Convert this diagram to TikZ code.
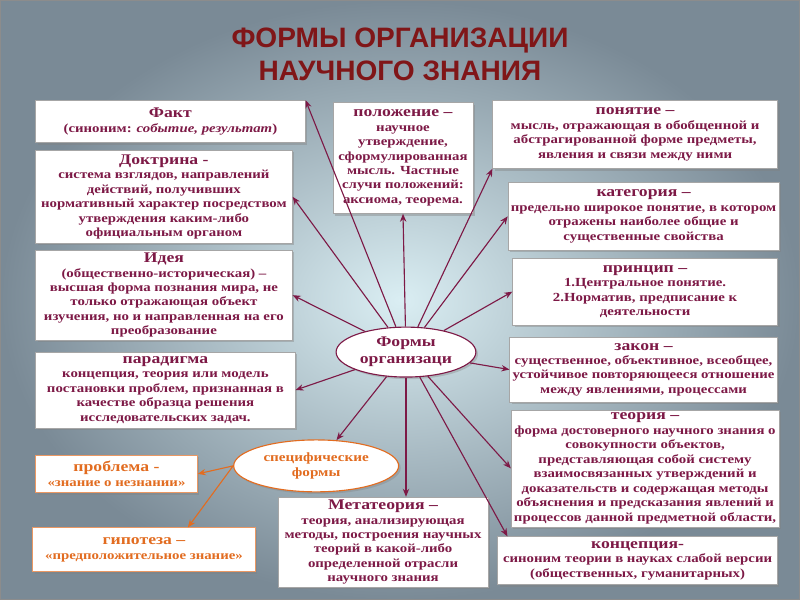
\documentclass[tikz,border=0pt]{standalone}
\usepackage{fontspec}
\setmainfont{Liberation Serif}[FakeStretch=1.2]
\newfontfamily\ttlfont{Liberation Sans}
\usetikzlibrary{arrows.meta,calc,shapes.geometric,shadows}
\definecolor{mrn}{RGB}{125,25,70}
\definecolor{org}{RGB}{226,108,32}
\definecolor{ttl}{RGB}{128,22,24}
\definecolor{bgin}{RGB}{218,238,243}
\definecolor{bgout}{RGB}{122,138,150}
\newcommand\bxhd[1]{{\fontsize{10.5}{12.5}\selectfont #1}}
\tikzset{
  bx/.style ={draw=black!35,line width=.5pt,fill=white,align=center,inner sep=2pt,
              text=mrn,font=\bfseries\fontsize{8.8}{10.3}\selectfont,
              drop shadow={opacity=.4,shadow xshift=1.5pt,shadow yshift=-1.5pt}},
  obx/.style={bx,draw=org!70,text=org},
  ell/.style={ellipse,draw=mrn,line width=.8pt,fill=white,align=center,inner sep=0pt,
              text=mrn,font=\bfseries\fontsize{10.5}{12}\selectfont,
              drop shadow={opacity=.35,shadow xshift=1.5pt,shadow yshift=-1.5pt}},
  oell/.style={ell,draw=org,text=org,font=\bfseries\fontsize{9}{10.5}\selectfont},
  ar/.style ={-{Stealth[length=2mm,width=1.6mm]},line width=.8pt,draw=mrn},
  oar/.style={ar,draw=org},
  ttlst/.style={font=\ttlfont\bfseries\fontsize{20}{23.5}\selectfont,text=ttl,align=center},
}
\begin{document}
\begin{tikzpicture}[x=0.025cm,y=-0.025cm]
  \shade[inner color=bgin,outer color=bgout,draw=black!45,line width=1pt] (0,0) rectangle (800,600);
  \node[ttlst] (title) at (400,54) {ФОРМЫ ОРГАНИЗАЦИИ\\НАУЧНОГО ЗНАНИЯ};
  % left column
  \node[bx,minimum width=6.75cm,minimum height=1.05cm] (fakt) at (170,121)
    {\bxhd{Факт}\\(синоним: \textit{событие, результат})};
  \node[bx,minimum width=6.43cm,minimum height=2.33cm] (doktrina) at (163.5,196.5)
    {\bxhd{Доктрина -}\\система взглядов, направлений\\действий, получивших\\нормативный характер посредством\\утверждения каким-либо\\официальным органом};
  \node[bx,minimum width=6.43cm,minimum height=2.25cm] (ideya) at (163.5,295)
    {\bxhd{Идея}\\(общественно-историческая) --\\высшая форма познания мира, не\\только отражающая объект\\изучения, но и направленная на его\\преобразование};
  \node[bx,minimum width=6.5cm,minimum height=1.9cm] (paradigma) at (165,390)
    {\bxhd{парадигма}\\концепция, теория или модель\\постановки проблем, признанная в\\качестве образца решения\\исследовательских задач.};
  \node[obx,minimum width=4.05cm,minimum height=.95cm] (problema) at (116,474)
    {\bxhd{проблема -}\\«знание о незнании»};
  \node[obx,minimum width=5.58cm,minimum height=1.1cm] (gipoteza) at (143.5,550)
    {\bxhd{гипотеза --}\\«предположительное знание»};
  % middle
  \node[bx,minimum width=3.5cm,minimum height=2.78cm] (polozhenie) at (403,157.5)
    {\bxhd{положение --}\\научное\\утверждение,\\сформулированная\\мысль. Частные\\случи положений:\\аксиома, теорема.};
  \node[ell,minimum width=3.5cm,minimum height=1.25cm] (forms) at (406,352) {Формы\\организаци};
  \node[oell,minimum width=4.13cm,minimum height=1.3cm] (spec) at (316,466) {специфические\\формы};
  \node[bx,minimum width=5.25cm,minimum height=2.13cm] (metateoria) at (383,542.5)
    {\bxhd{Метатеория --}\\теория, анализирующая\\методы, построения научных\\теорий в какой-либо\\определенной отрасли\\научного знания};
  % right column
  \node[bx,minimum width=7.13cm,minimum height=1.7cm] (ponyatie) at (635.5,134)
    {\bxhd{понятие --}\\мысль, отражающая в обобщенной и\\абстрагированной форме предметы,\\явления и связи между ними};
  \node[bx,minimum width=6.7cm,minimum height=1.7cm] (kategoria) at (644,216)
    {\bxhd{категория --}\\предельно широкое понятие, в котором\\отражены наиболее общие и\\существенные свойства};
  \node[bx,minimum width=6.63cm,minimum height=1.68cm] (princip) at (645.5,291.5)
    {\bxhd{принцип --}\\1.Центральное понятие.\\2.Норматив, предписание к\\деятельности};
  \node[bx,minimum width=6.7cm,minimum height=1.63cm] (zakon) at (644,369.5)
    {\bxhd{закон --}\\существенное, объективное, всеобщее,\\устойчивое повторяющееся отношение\\между явлениями, процессами};
  \node[bx,minimum width=6.63cm,minimum height=2.93cm] (teoria) at (645.5,468.5)
    {\bxhd{теория --}\\форма достоверного научного знания о\\совокупности объектов,\\представляющая собой систему\\взаимосвязанных утверждений и\\доказательств и содержащая методы\\объяснения и предсказания явлений и\\процессов данной предметной области,};
  \node[bx,minimum width=7cm,minimum height=1.2cm] (koncepciya) at (638,561)
    {\bxhd{концепция-}\\синоним теории в науках слабой версии\\(общественных, гуманитарных)};
  % connectors
  \foreach \b/\p in {fakt/north east,doktrina/east,ideya/east,paradigma/east,polozhenie/south,
                     ponyatie/south west,kategoria/west,princip/west,zakon/west,teoria/west}
     \draw[ar] (forms) -- (\b.\p);
  \draw[ar] (forms) -- ($(koncepciya.north west)+(10,0)$);
  \draw[ar] (forms.south) -- (forms.south |- metateoria.north);
  \draw[ar] (forms) -- (spec);
  \draw[oar] (spec.west) -- (problema.east);
  \draw[oar] (spec.west) -- ($(gipoteza.north)+(44,0)$);
\end{tikzpicture}
\end{document}
